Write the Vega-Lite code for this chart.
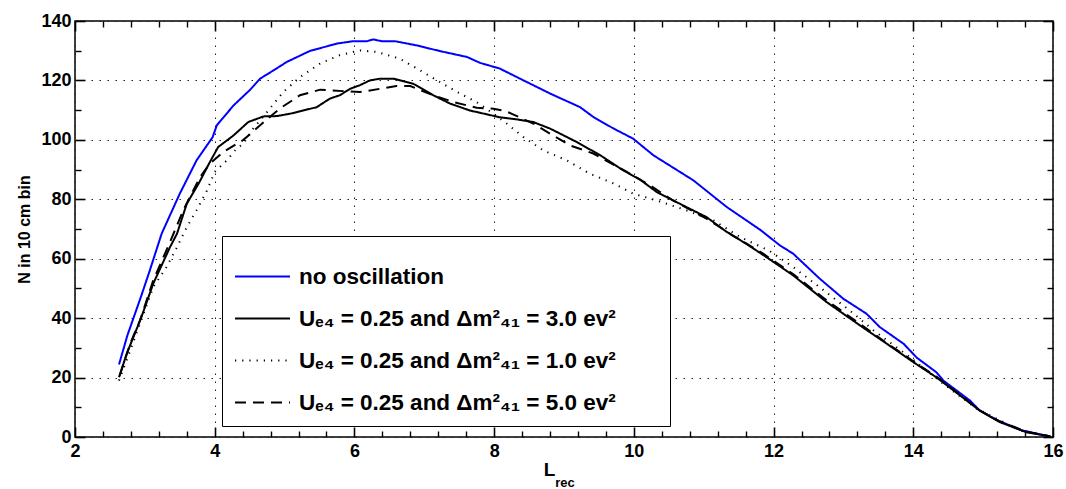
{
  "$schema": "https://vega.github.io/schema/vega-lite/v6.json",
  "width": 978,
  "height": 416,
  "autosize": {"type": "none"},
  "padding": {"left": 75, "top": 21, "right": 13, "bottom": 52},
  "background": "white",
  "config": {
    "font": "Liberation Sans",
    "view": {"stroke": "black", "strokeWidth": 1.5},
    "axis": {"labelFont": "Liberation Sans", "titleFont": "Liberation Sans"}
  },
  "title": {"text": "rec", "orient": "bottom", "anchor": "middle", "fontSize": 13, "fontWeight": "bold", "font": "Liberation Sans", "color": "black", "dx": 1, "offset": -2},
  "resolve": {"axis": {"x": "independent", "y": "independent"}},
  "data": {"values": [
    {"s":"A","L":2.63,"N":24.4},{"s":"A","L":2.75,"N":34.2},{"s":"A","L":2.95,"N":47.6},{"s":"A","L":3.07,"N":56},{"s":"A","L":3.24,"N":68.4},{"s":"A","L":3.5,"N":81.9},{"s":"A","L":3.74,"N":93.1},{"s":"A","L":3.97,"N":100.9},{"s":"A","L":4.03,"N":104.9},{"s":"A","L":4.17,"N":108.8},{"s":"A","L":4.27,"N":111.6},{"s":"A","L":4.5,"N":116.7},{"s":"A","L":4.65,"N":120.6},{"s":"A","L":4.85,"N":123.5},{"s":"A","L":5.03,"N":126.2},{"s":"A","L":5.36,"N":129.9},{"s":"A","L":5.75,"N":132.4},{"s":"A","L":5.98,"N":133.2},{"s":"A","L":6.18,"N":133.2},{"s":"A","L":6.27,"N":133.8},{"s":"A","L":6.39,"N":133.2},{"s":"A","L":6.58,"N":133.2},{"s":"A","L":6.89,"N":131.8},{"s":"A","L":7.22,"N":129.9},{"s":"A","L":7.61,"N":127.9},{"s":"A","L":7.8,"N":125.9},{"s":"A","L":8.08,"N":124},{"s":"A","L":8.37,"N":120.6},{"s":"A","L":8.8,"N":115.6},{"s":"A","L":9.23,"N":111},{"s":"A","L":9.42,"N":107.7},{"s":"A","L":9.71,"N":103.8},{"s":"A","L":9.99,"N":100.4},{"s":"A","L":10.28,"N":94.8},{"s":"A","L":10.66,"N":89.2},{"s":"A","L":10.85,"N":86.4},{"s":"A","L":11.33,"N":77.4},{"s":"A","L":11.81,"N":69.7},{"s":"A","L":12.09,"N":64.5},{"s":"A","L":12.28,"N":61.7},{"s":"A","L":12.66,"N":53.3},{"s":"A","L":13.0,"N":46.5},{"s":"A","L":13.33,"N":41.5},{"s":"A","L":13.52,"N":37.0},{"s":"A","L":13.86,"N":31.4},{"s":"A","L":14.05,"N":26.7},{"s":"A","L":14.33,"N":21.8},{"s":"A","L":14.43,"N":19.0},{"s":"A","L":14.81,"N":12.3},{"s":"A","L":14.95,"N":8.9},{"s":"A","L":15.19,"N":5.8},{"s":"A","L":15.53,"N":2.4},{"s":"A","L":15.77,"N":1.1},{"s":"A","L":15.96,"N":0.2},
    {"s":"B","L":2.63,"N":20.1},{"s":"B","L":2.74,"N":28},{"s":"B","L":2.95,"N":40.3},{"s":"B","L":3.12,"N":51.6},{"s":"B","L":3.36,"N":63.9},{"s":"B","L":3.46,"N":68.4},{"s":"B","L":3.6,"N":78.5},{"s":"B","L":3.77,"N":85.3},{"s":"B","L":3.93,"N":92.5},{"s":"B","L":4.05,"N":97.6},{"s":"B","L":4.27,"N":101.5},{"s":"B","L":4.48,"N":106.0},{"s":"B","L":4.7,"N":107.9},{"s":"B","L":4.89,"N":108},{"s":"B","L":5.08,"N":108.8},{"s":"B","L":5.46,"N":111},{"s":"B","L":5.65,"N":113.9},{"s":"B","L":5.79,"N":115},{"s":"B","L":5.94,"N":117.2},{"s":"B","L":6.08,"N":118.4},{"s":"B","L":6.22,"N":120},{"s":"B","L":6.37,"N":120.6},{"s":"B","L":6.56,"N":120.6},{"s":"B","L":6.84,"N":118.9},{"s":"B","L":7.13,"N":115},{"s":"B","L":7.37,"N":112.2},{"s":"B","L":7.65,"N":109.9},{"s":"B","L":8.08,"N":107.6},{"s":"B","L":8.32,"N":106.9},{"s":"B","L":8.56,"N":106},{"s":"B","L":8.8,"N":103.8},{"s":"B","L":9.18,"N":99.3},{"s":"B","L":9.52,"N":94.8},{"s":"B","L":9.85,"N":89.7},{"s":"B","L":10.09,"N":86.6},{"s":"B","L":10.33,"N":82.4},{"s":"B","L":10.75,"N":77.4},{"s":"B","L":11.04,"N":74},{"s":"B","L":11.33,"N":69},{"s":"B","L":11.61,"N":65},{"s":"B","L":11.9,"N":60.5},{"s":"B","L":12.28,"N":54.4},{"s":"B","L":12.76,"N":45.4},{"s":"B","L":13.24,"N":37.5},{"s":"B","L":13.62,"N":31.4},{"s":"B","L":14.0,"N":25.2},{"s":"B","L":14.33,"N":20.1},{"s":"B","L":14.67,"N":14},{"s":"B","L":14.95,"N":8.9},{"s":"B","L":15.24,"N":5},{"s":"B","L":15.62,"N":1.6},{"s":"B","L":15.96,"N":0.2},
    {"s":"C","L":2.63,"N":19},{"s":"C","L":2.79,"N":29.1},{"s":"C","L":2.93,"N":38.1},{"s":"C","L":3.12,"N":50.4},{"s":"C","L":3.31,"N":57.2},{"s":"C","L":3.46,"N":63.9},{"s":"C","L":3.6,"N":70.6},{"s":"C","L":3.74,"N":76.3},{"s":"C","L":3.89,"N":83},{"s":"C","L":4.0,"N":89.2},{"s":"C","L":4.17,"N":93},{"s":"C","L":4.31,"N":97},{"s":"C","L":4.41,"N":98.7},{"s":"C","L":4.55,"N":103.8},{"s":"C","L":4.72,"N":108.5},{"s":"C","L":4.98,"N":116.1},{"s":"C","L":5.22,"N":121.1},{"s":"C","L":5.51,"N":125.7},{"s":"C","L":5.79,"N":128.5},{"s":"C","L":6.08,"N":130.1},{"s":"C","L":6.32,"N":129.6},{"s":"C","L":6.65,"N":127.3},{"s":"C","L":6.94,"N":123.4},{"s":"C","L":7.22,"N":119.5},{"s":"C","L":7.51,"N":115.6},{"s":"C","L":7.75,"N":112.7},{"s":"C","L":7.99,"N":108.8},{"s":"C","L":8.18,"N":105.5},{"s":"C","L":8.42,"N":100.9},{"s":"C","L":8.7,"N":96.5},{"s":"C","L":9.04,"N":93.1},{"s":"C","L":9.37,"N":88.6},{"s":"C","L":9.71,"N":85.3},{"s":"C","L":9.99,"N":81.9},{"s":"C","L":10.33,"N":79.6},{"s":"C","L":10.75,"N":76.3},{"s":"C","L":11.14,"N":72.9},{"s":"C","L":11.52,"N":67.3},{"s":"C","L":11.93,"N":62.8},{"s":"C","L":12.28,"N":57.2},{"s":"C","L":12.66,"N":50.4},{"s":"C","L":13.09,"N":42.6},{"s":"C","L":13.43,"N":35.9},{"s":"C","L":13.95,"N":26.9},{"s":"C","L":14.43,"N":17.9},{"s":"C","L":14.91,"N":9.5},{"s":"C","L":15.53,"N":2.2},{"s":"C","L":15.96,"N":0.2},
    {"s":"D","L":2.64,"N":20.7},{"s":"D","L":2.79,"N":31.4},{"s":"D","L":2.93,"N":39.2},{"s":"D","L":3.12,"N":52.7},{"s":"D","L":3.36,"N":65.6},{"s":"D","L":3.55,"N":76.3},{"s":"D","L":3.79,"N":87.5},{"s":"D","L":3.93,"N":92},{"s":"D","L":4.12,"N":95.9},{"s":"D","L":4.41,"N":100},{"s":"D","L":4.65,"N":104.9},{"s":"D","L":4.93,"N":110.5},{"s":"D","L":5.22,"N":115},{"s":"D","L":5.51,"N":116.9},{"s":"D","L":5.84,"N":116.4},{"s":"D","L":6.08,"N":116.1},{"s":"D","L":6.37,"N":117.2},{"s":"D","L":6.6,"N":118.1},{"s":"D","L":6.8,"N":118.1},{"s":"D","L":7.13,"N":115},{"s":"D","L":7.42,"N":112.7},{"s":"D","L":7.75,"N":110.8},{"s":"D","L":7.99,"N":110.5},{"s":"D","L":8.16,"N":109.7},{"s":"D","L":8.27,"N":108.6},{"s":"D","L":8.56,"N":105.5},{"s":"D","L":8.8,"N":102.1},{"s":"D","L":9.09,"N":98.1},{"s":"D","L":9.42,"N":95.4},{"s":"D","L":9.9,"N":89.2},{"s":"D","L":10.23,"N":84.7},{"s":"D","L":10.56,"N":79.6},{"s":"D","L":11.04,"N":73.5},{"s":"D","L":11.42,"N":67.8},{"s":"D","L":11.85,"N":61.7},{"s":"D","L":12.28,"N":54.8},{"s":"D","L":12.76,"N":46},{"s":"D","L":13.24,"N":38},{"s":"D","L":13.62,"N":31.6},{"s":"D","L":14.0,"N":25.5},{"s":"D","L":14.33,"N":20.3},{"s":"D","L":14.67,"N":14.2},{"s":"D","L":14.95,"N":9},{"s":"D","L":15.24,"N":5.2},{"s":"D","L":15.62,"N":1.8},{"s":"D","L":15.96,"N":0.2}
  ]},
  "layer": [
    {
      "mark": {"type": "line", "strokeCap": "butt"},
      "encoding": {
        "x": {
          "field": "L", "type": "quantitative",
          "scale": {"domain": [2, 16], "nice": false, "zero": false},
          "axis": {
            "orient": "bottom",
            "values": [2, 4, 6, 8, 10, 12, 14, 16],
            "format": "d",
            "labelOverlap": false, "labelFlush": false,
            "labelFontSize": 18, "labelFontWeight": "bold", "labelColor": "black",
            "labelPadding": 5,
            "domain": false, "ticks": false,
            "grid": true, "gridColor": "#222", "gridDash": [1.5, 6.5], "gridWidth": 1,
            "title": "L", "titleFontSize": 19, "titleFontWeight": "bold", "titleColor": "black",
            "titlePadding": 0, "titleX": 474
          }
        },
        "y": {
          "field": "N", "type": "quantitative",
          "scale": {"domain": [0, 140], "nice": false},
          "axis": {
            "orient": "left",
            "values": [0, 20, 40, 60, 80, 100, 120, 140],
            "labelOverlap": false, "labelFlush": false,
            "labelFontSize": 18, "labelFontWeight": "bold", "labelColor": "black",
            "labelPadding": 4,
            "domain": false, "ticks": false,
            "grid": true, "gridColor": "#222", "gridDash": [1.5, 6.5], "gridWidth": 1,
            "title": "N in 10 cm bin", "titleFontSize": 16, "titleFontWeight": "bold", "titleColor": "black",
            "titlePadding": 8
          }
        },
        "color": {
          "field": "s", "type": "nominal",
          "scale": {"domain": ["A", "B", "C", "D"], "range": ["#0000ff", "black", "black", "black"]},
          "legend": {
            "orient": "none", "legendX": 147, "legendY": 215,
            "title": null,
            "labelExpr": "datum.value === 'A' ? 'no oscillation' : datum.value === 'B' ? 'Uₑ₄ = 0.25 and Δm²₄₁ = 3.0 ev²\u00a0\u00a0\u00a0\u00a0\u2800' : datum.value === 'C' ? 'Uₑ₄ = 0.25 and Δm²₄₁ = 1.0 ev²\u00a0\u00a0\u00a0\u00a0\u2800' : 'Uₑ₄ = 0.25 and Δm²₄₁ = 5.0 ev²\u00a0\u00a0\u00a0\u00a0\u2800'",
            "labelFontSize": 22.5, "labelFontWeight": "bold", "labelColor": "black", "labelFont": "Liberation Sans",
            "labelLimit": 600, "labelOffset": 8,
            "symbolType": "stroke", "symbolSize": 3025, "symbolStrokeWidth": 2,
            "rowPadding": 2, "padding": 12,
            "strokeColor": "black", "fillColor": "white"
          }
        },
        "strokeDash": {
          "field": "s", "type": "nominal",
          "scale": {"domain": ["A", "B", "C", "D"], "range": [[1, 0], [1, 0], [1.2, 6], [11, 7]]},
          "legend": null
        },
        "strokeWidth": {
          "field": "s", "type": "nominal",
          "scale": {"domain": ["A", "B", "C", "D"], "range": [2, 2, 1.6, 2]},
          "legend": null
        }
      }
    },
    {
      "mark": {"type": "line", "opacity": 0},
      "encoding": {
        "x": {"field": "L", "type": "quantitative",
          "axis": {"orient": "bottom", "offset": -10, "values": [2, 4, 6, 8, 10, 12, 14, 16],
            "labels": false, "domain": false, "grid": false, "title": null,
            "ticks": true, "tickColor": "black", "tickWidth": 1.6, "tickSize": 10}},
        "y": {"field": "N", "type": "quantitative",
          "axis": {"orient": "left", "offset": -10, "values": [0, 20, 40, 60, 80, 100, 120, 140],
            "labels": false, "domain": false, "grid": false, "title": null,
            "ticks": true, "tickColor": "black", "tickWidth": 1.6, "tickSize": 10}},
        "detail": {"field": "s", "type": "nominal"}
      }
    },
    {
      "mark": {"type": "line", "opacity": 0},
      "encoding": {
        "x": {"field": "L", "type": "quantitative",
          "axis": {"orient": "bottom", "offset": -6,
            "values": [2.4,2.8,3.2,3.6,4.4,4.8,5.2,5.6,6.4,6.8,7.2,7.6,8.4,8.8,9.2,9.6,10.4,10.8,11.2,11.6,12.4,12.8,13.2,13.6,14.4,14.8,15.2,15.6],
            "labels": false, "domain": false, "grid": false, "title": null,
            "ticks": true, "tickColor": "black", "tickWidth": 1.4, "tickSize": 6}},
        "y": {"field": "N", "type": "quantitative",
          "axis": {"orient": "left", "offset": -6, "values": [10, 30, 50, 70, 90, 110, 130],
            "labels": false, "domain": false, "grid": false, "title": null,
            "ticks": true, "tickColor": "black", "tickWidth": 1.4, "tickSize": 6}},
        "detail": {"field": "s", "type": "nominal"}
      }
    },
    {
      "mark": {"type": "line", "opacity": 0},
      "encoding": {
        "x": {"field": "L", "type": "quantitative",
          "axis": {"orient": "top", "offset": -10, "values": [2, 4, 6, 8, 10, 12, 14, 16],
            "labels": false, "domain": false, "grid": false, "title": null,
            "ticks": true, "tickColor": "black", "tickWidth": 1.6, "tickSize": 10}},
        "y": {"field": "N", "type": "quantitative",
          "axis": {"orient": "right", "offset": -10, "values": [0, 20, 40, 60, 80, 100, 120, 140],
            "labels": false, "domain": false, "grid": false, "title": null,
            "ticks": true, "tickColor": "black", "tickWidth": 1.6, "tickSize": 10}},
        "detail": {"field": "s", "type": "nominal"}
      }
    },
    {
      "mark": {"type": "line", "opacity": 0},
      "encoding": {
        "x": {"field": "L", "type": "quantitative",
          "axis": {"orient": "top", "offset": -6,
            "values": [2.4,2.8,3.2,3.6,4.4,4.8,5.2,5.6,6.4,6.8,7.2,7.6,8.4,8.8,9.2,9.6,10.4,10.8,11.2,11.6,12.4,12.8,13.2,13.6,14.4,14.8,15.2,15.6],
            "labels": false, "domain": false, "grid": false, "title": null,
            "ticks": true, "tickColor": "black", "tickWidth": 1.4, "tickSize": 6}},
        "y": {"field": "N", "type": "quantitative",
          "axis": {"orient": "right", "offset": -6, "values": [10, 30, 50, 70, 90, 110, 130],
            "labels": false, "domain": false, "grid": false, "title": null,
            "ticks": true, "tickColor": "black", "tickWidth": 1.4, "tickSize": 6}},
        "detail": {"field": "s", "type": "nominal"}
      }
    }
  ]
}
